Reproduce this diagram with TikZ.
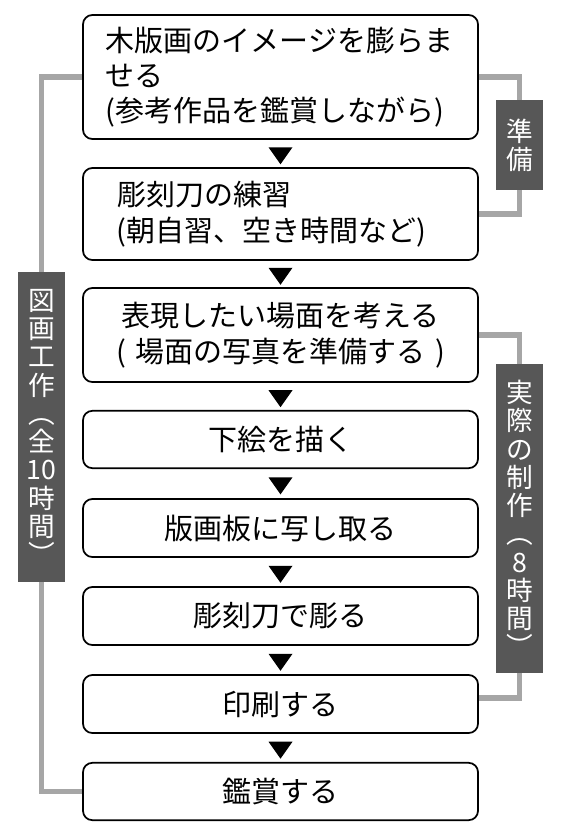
\documentclass[tikz,border=0pt]{standalone}
\usepackage{fontspec}
\setmainfont{Noto Sans CJK JP}
\usetikzlibrary{shapes.geometric,calc}
\definecolor{labgray}{HTML}{575757}
\definecolor{linegray}{HTML}{A6A6A6}
\begin{document}
\begin{tikzpicture}[x=0.75pt,y=-0.75pt,
  box/.style={draw=black,line width=1.3pt,rounded corners=7pt,fill=white,
    minimum width=296.25pt,inner xsep=17pt,inner ysep=0pt,text width=262pt,
    font=\fontsize{21.75pt}{26.5pt}\selectfont},
  tri/.style={isosceles triangle,isosceles triangle stretches,shape border rotate=270,
    fill=black,inner sep=0pt,minimum width=18pt,minimum height=12.75pt},
  lab/.style={fill=labgray,text=white,minimum width=35.25pt,inner sep=0pt,
    align=center,font=\fontsize{20pt}{21.2pt}\selectfont},
  gl/.style={draw=linegray,line width=4pt}]
\useasboundingbox (0,0) rectangle (564,835);
% boxes
\node[box,align=left,minimum height=93pt] (b1) at (280.5,77)
  {木版画のイメージを膨らま\\せる\\(参考作品を鑑賞しながら)};
\node[box,align=left,minimum height=69pt] (b2) at (280.5,214)
  {\hspace*{8.5pt}彫刻刀の練習\\\hspace*{8pt}(朝自習、空き時間など)};
\node[box,align=center,minimum height=70.5pt] (b3) at (280.5,335)
  {表現したい場面を考える\\( 場面の写真を準備する )};
\node[box,align=center,minimum height=43pt] (b4) at (280.5,439.5) {下絵を描く};
\node[box,align=center,minimum height=43.5pt] (b5) at (280.5,528) {版画板に写し取る};
\node[box,align=center,minimum height=43.5pt] (b6) at (280.5,616) {彫刻刀で彫る};
\node[box,align=center,minimum height=43.5pt] (b7) at (280.5,704) {印刷する};
\node[box,align=center,minimum height=43pt] (b8) at (280.5,791.5) {鑑賞する};
% arrow marks
\node[tri] (t1) at ($(b1.south)!0.5!(b2.north)$) {};
\node[tri] (t2) at ($(b2.south)!0.5!(b3.north)$) {};
\node[tri] (t3) at ($(b3.south)!0.5!(b4.north)$) {};
\node[tri] (t4) at ($(b4.south)!0.5!(b5.north)$) {};
\node[tri] (t5) at ($(b5.south)!0.5!(b6.north)$) {};
\node[tri] (t6) at ($(b6.south)!0.5!(b7.north)$) {};
\node[tri] (t7) at ($(b7.south)!0.5!(b8.north)$) {};
% labels
\node[lab,minimum height=232.5pt] (L) at (41.5,427)
  {図\\画\\工\\作\\︵\\全\\10\\時\\間\\︶};
\node[lab,minimum height=67.5pt] (R1) at (519.5,145) {準\\備};
\node[lab,minimum height=231.75pt] (R2) at (519.5,518.5)
  {実\\際\\の\\制\\作\\︵\\8\\時\\間\\︶};
% gray connectors
\draw[gl] (b1.west) -| (L.north);
\draw[gl] (L.south) |- (b8.west);
\draw[gl] (b1.east) -| (R1.north);
\draw[gl] (R1.south) |- (b2.east);
\draw[gl] (b3.east) -| (R2.north);
\draw[gl] (R2.south) |- ([yshift=4.5pt]b7.east);
\end{tikzpicture}
\end{document}
